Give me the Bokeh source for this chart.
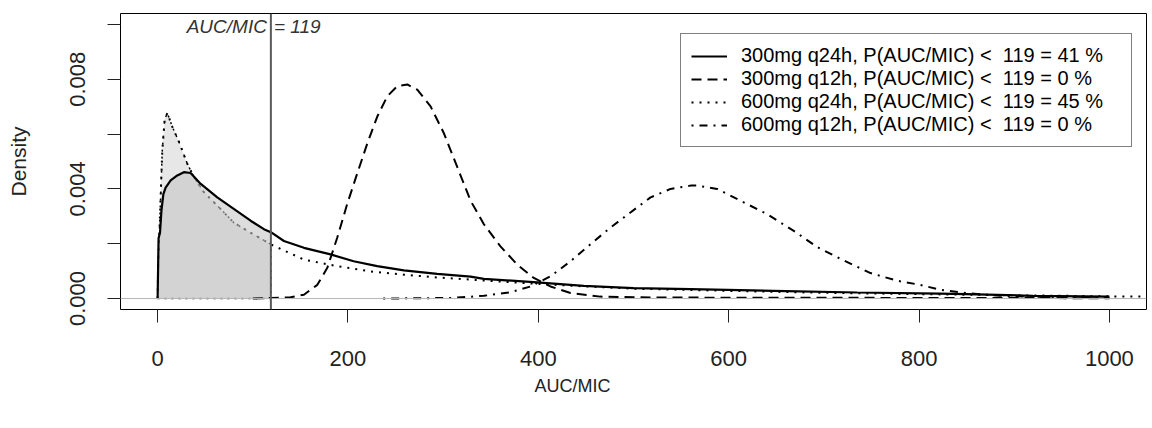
import numpy as np
from bokeh.plotting import figure
from bokeh.models import FixedTicker, Span, Legend, LegendItem, Label, Title
from bokeh.embed import file_html
from bokeh.resources import INLINE

# ---- data ----
threshold = 119

q24_300_x = [0, 1, 2.5, 4, 6, 8.4, 13.7, 20.7, 27.6, 34.7, 45, 62.7, 80, 97.7, 111.7, 119,
             132.7, 153.7, 181.7, 206, 230.7, 258.7, 293.8, 328.8, 342.8, 395, 447.8, 500,
             560, 647, 735, 822, 850, 920, 1000]
q24_300_y = [0, 0.0022, 0.0024, 0.0032, 0.0038, 0.00405, 0.00431, 0.00449, 0.00461, 0.00458,
             0.00419, 0.00369, 0.00327, 0.00284, 0.00253, 0.00242, 0.0021, 0.00185, 0.00161,
             0.00136, 0.00118, 0.00103, 0.0009, 0.0008, 0.00072, 0.0006, 0.00046, 0.00038,
             0.00034, 0.00028, 0.00022, 0.00018, 0.00016, 0.0001, 0.00007]

q12_300_x = [100, 119, 139.7, 153.7, 167.8, 178.3, 188.7, 199.2, 209.7, 220.3, 230.8, 241.3,
             251.8, 262.3, 272.8, 286.8, 300.8, 314.8, 328.8, 342.8, 360, 377.8, 395.3, 412.8,
             433.8, 465, 518, 600, 700, 800, 900, 1000]
q12_300_y = [0, 0.00002, 0.00005, 0.00014, 0.0005, 0.00112, 0.00222, 0.00345, 0.00456, 0.00566,
             0.00664, 0.00738, 0.00775, 0.00781, 0.00762, 0.00701, 0.00603, 0.0048, 0.00357,
             0.00271, 0.00191, 0.00124, 0.00075, 0.00044, 0.0002, 0.00007, 0.00004, 0.00003,
             0.00003, 0.00002, 0.00002, 0.00001]

q24_600_x = [0, 0.5, 2.4, 4.9, 7.4, 10.2, 15.4, 22.4, 31.2, 38.2, 48.6, 62.7, 80, 97.7, 118.7,
             153.7, 188.7, 223.7, 258.7, 293.8, 328.8, 360, 402, 450, 500, 600, 700, 800, 900,
             1000, 1045]
q24_600_y = [0, 0.0011, 0.00296, 0.00541, 0.00652, 0.00677, 0.00627, 0.00572, 0.00492, 0.00443,
             0.00388, 0.00339, 0.00277, 0.0024, 0.00198, 0.00142, 0.00118, 0.00099, 0.00087,
             0.00077, 0.00069, 0.00062, 0.00053, 0.00044, 0.00036, 0.00028, 0.00021, 0.00016,
             0.00012, 0.00008, 0.00007]

q12_600_x = [237, 270, 307.8, 342.8, 370.8, 391.8, 412.8, 433.8, 454.8, 475.8, 496.8, 517.9,
             538.9, 560, 566.9, 587.9, 612.4, 640.4, 668.4, 692.9, 720.9, 749, 777, 801, 822,
             850, 885, 938, 1000]
q12_600_y = [0, 0.00001, 0.00002, 0.0001, 0.00023, 0.00044, 0.00081, 0.00136, 0.00198, 0.00259,
             0.00314, 0.00369, 0.004, 0.00412, 0.00412, 0.004, 0.00357, 0.00308, 0.00247,
             0.00188, 0.00139, 0.00093, 0.00065, 0.0005, 0.00032, 0.0002, 0.0001, 0.00005,
             0.00003]

labels = ["300mg q24h, P(AUC/MIC) <  119 = 41 %",
          "300mg q12h, P(AUC/MIC) <  119 = 0 %",
          "600mg q24h, P(AUC/MIC) <  119 = 45 %",
          "600mg q12h, P(AUC/MIC) <  119 = 0 %"]

x_ticks = [0, 200, 400, 600, 800, 1000]
y_ticks = [0.0, 0.002, 0.004, 0.006, 0.008, 0.010]
y_tick_labels = {0.0: "0.000", 0.002: "", 0.004: "0.004", 0.006: "", 0.008: "0.008", 0.010: ""}
x_title = "AUC/MIC"
y_title = "Density"

FONT = "Liberation Sans"

p = figure(width=1150, height=426, x_range=(-39, 1039), y_range=(-0.0004, 0.0104),
           output_backend="svg", toolbar_location=None,
           min_border_left=120, min_border_right=4, min_border_top=13, min_border_bottom=117)
p.grid.visible = False
p.outline_line_color = "black"
p.outline_line_width = 1
p.background_fill_color = "white"

for ax in (p.xaxis[0], p.yaxis[0]):
    ax.axis_line_color = None
    ax.major_tick_out = 13
    ax.major_tick_in = 0
    ax.minor_tick_line_color = None
    ax.major_tick_line_color = "#222222"
    ax.major_label_text_font = FONT
    ax.major_label_text_font_size = "22px"
    ax.major_label_text_color = "#222222"
    ax.axis_label_text_font = FONT
    ax.axis_label_text_font_style = "normal"
    ax.axis_label_text_color = "#222222"

p.xaxis.ticker = FixedTicker(ticks=x_ticks)
p.xaxis.major_label_standoff = 28

p.yaxis.ticker = FixedTicker(ticks=y_ticks)
p.yaxis.major_label_overrides = y_tick_labels
p.yaxis.major_label_orientation = "vertical"
p.yaxis.major_label_standoff = 22
p.yaxis.axis_label = y_title
p.yaxis.axis_label_text_font_size = "21px"
p.yaxis.axis_label_standoff = 38

# x-axis title, placed below the axis (left of the frame centre as in the reference)
p.add_layout(Title(text=x_title, align="left", offset=414, standoff=11,
                   text_font=FONT, text_font_size="18px", text_font_style="normal",
                   text_color="#222222"), "below")

# shaded areas below threshold
def clip(xs, ys, t):
    xs = np.asarray(xs, float); ys = np.asarray(ys, float)
    m = xs < t
    cx = np.concatenate([xs[m], [t]])
    cy = np.concatenate([ys[m], [np.interp(t, xs, ys)]])
    return np.concatenate([cx, [t, cx[0]]]), np.concatenate([cy, [0, 0]])

px2, py2 = clip(q24_600_x, q24_600_y, threshold)
p.patch(px2, py2, fill_color="#e7e7e7", line_color="black", line_width=1.5, line_dash="2 5")

r_q24_600 = p.line(q24_600_x, q24_600_y, line_color="black", line_width=2, line_dash="2 6")

px1, py1 = clip(q24_300_x, q24_300_y, threshold)
p.patch(px1, py1, fill_color="#c6c6c6", fill_alpha=0.6, line_color=None)

r_q12_300 = p.line(q12_300_x, q12_300_y, line_color="black", line_width=2, line_dash="10 6")
r_q12_600 = p.line(q12_600_x, q12_600_y, line_color="black", line_width=2, line_dash="2 6 8 6")
r_q24_300 = p.line(q24_300_x, q24_300_y, line_color="black", line_width=2.2)

p.add_layout(Span(location=0, dimension="width", line_color="#b5b5b5", line_width=1))
p.add_layout(Span(location=threshold, dimension="height", line_color="#5a5a5a", line_width=2))

p.add_layout(Label(x=threshold, y=0.00992, text="AUC/MIC", text_align="right",
                   text_baseline="alphabetic", x_offset=-4, text_font=FONT,
                   text_font_style="italic", text_font_size="19px", text_color="#333333"))
p.add_layout(Label(x=threshold, y=0.00992, text="=  " + str(threshold), text_align="left",
                   text_baseline="alphabetic", x_offset=3, text_font=FONT,
                   text_font_style="italic", text_font_size="19px", text_color="#333333"))

legend = Legend(items=[LegendItem(label=labels[0], renderers=[r_q24_300]),
                       LegendItem(label=labels[1], renderers=[r_q12_300]),
                       LegendItem(label=labels[2], renderers=[r_q24_600]),
                       LegendItem(label=labels[3], renderers=[r_q12_600])],
                location=(560, 162), margin=0, padding=10, spacing=0,
                glyph_width=36, glyph_height=22, label_height=22, label_standoff=14,
                label_width=380,
                label_text_font=FONT, label_text_font_size="20px", label_text_color="black",
                border_line_color="black", border_line_width=1,
                background_fill_color="white", background_fill_alpha=1)
p.add_layout(legend)

open("out.html", "w").write(file_html(p, INLINE))
